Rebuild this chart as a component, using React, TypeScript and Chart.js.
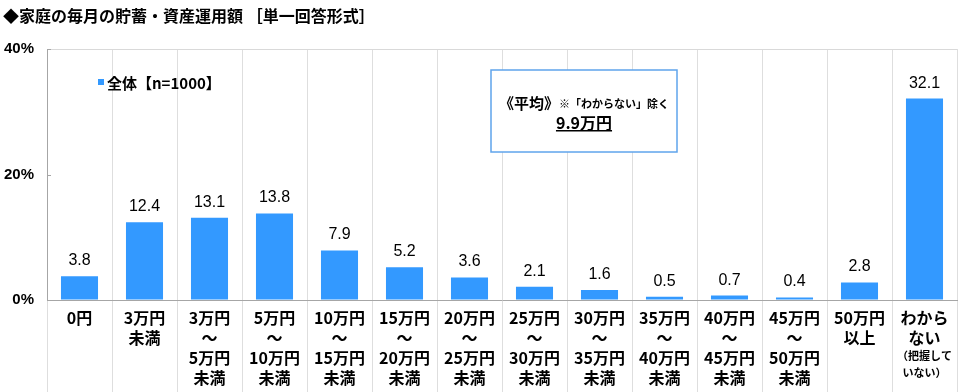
import React, { useEffect, useRef } from "react";
import { Chart, registerables } from "chart.js";

Chart.register(...registerables);

const title = "◆家庭の毎月の貯蓄・資産運用額 ［単一回答形式］";
const seriesName = "全体【n=1000】";
const categories: string[][] = [
  ["0円"],
  ["3万円", "未満"],
  ["3万円", "～", "5万円", "未満"],
  ["5万円", "～", "10万円", "未満"],
  ["10万円", "～", "15万円", "未満"],
  ["15万円", "～", "20万円", "未満"],
  ["20万円", "～", "25万円", "未満"],
  ["25万円", "～", "30万円", "未満"],
  ["30万円", "～", "35万円", "未満"],
  ["35万円", "～", "40万円", "未満"],
  ["40万円", "～", "45万円", "未満"],
  ["45万円", "～", "50万円", "未満"],
  ["50万円", "以上"],
  ["わから", "ない", "（把握して", "いない）"],
];
const smallLines = ["（把握して", "いない）"];
const values = [3.8, 12.4, 13.1, 13.8, 7.9, 5.2, 3.6, 2.1, 1.6, 0.5, 0.7, 0.4, 2.8, 32.1];
const yTicks = [0, 20, 40];
const noteHead = "《平均》";
const noteSub = "※「わからない」除く";
const noteValue = "9.9万円";

const JP = "'Noto Sans CJK JP', 'Noto Sans', sans-serif";
const NUM = "'Liberation Sans', Arial, sans-serif";
const BAR = "#3399ff";

const overlay = {
  id: "overlay",
  afterDatasetsDraw(chart: any) {
    const ctx = chart.ctx;
    const meta = chart.getDatasetMeta(0);
    ctx.save();
    ctx.fillStyle = "#000";
    ctx.font = `16px ${NUM}`;
    ctx.textAlign = "center";
    ctx.textBaseline = "alphabetic";
    meta.data.forEach((el: any, i: number) => {
      ctx.fillText(values[i].toFixed(1), el.x, el.y - 11);
    });
    ctx.restore();
  },
  afterDraw(chart: any) {
    const ctx = chart.ctx;
    const xs = chart.scales.x;
    const ys = chart.scales.y;
    const area = chart.chartArea;
    ctx.save();
    // title
    ctx.fillStyle = "#000";
    ctx.textAlign = "left";
    ctx.textBaseline = "middle";
    ctx.font = `bold 16px ${JP}`;
    ctx.fillText(title, 3, 16);
    // legend
    ctx.fillStyle = BAR;
    ctx.fillRect(98, 79, 6, 6);
    ctx.fillStyle = "#000";
    ctx.font = `bold 15px ${JP}`;
    ctx.fillText(seriesName, 107, 83);
    // inward y ticks
    ctx.strokeStyle = "#a6a6a6";
    ctx.lineWidth = 1;
    yTicks.forEach((t) => {
      const y = Math.round(ys.getPixelForValue(t)) + 0.5;
      ctx.beginPath();
      ctx.moveTo(area.left, y);
      ctx.lineTo(area.left + 4, y);
      ctx.stroke();
    });
    // note box
    ctx.fillStyle = "#fff";
    ctx.fillRect(491, 70, 186, 82);
    ctx.strokeStyle = "#5fa4ec";
    ctx.lineWidth = 1.5;
    ctx.strokeRect(491, 70, 186, 82);
    ctx.fillStyle = "#000";
    ctx.font = `bold 15px ${JP}`;
    const w1 = ctx.measureText(noteHead).width;
    ctx.font = `bold 11px ${JP}`;
    const w2 = ctx.measureText(noteSub).width;
    const cx = 584;
    const sx = cx - (w1 + w2) / 2;
    ctx.textAlign = "left";
    ctx.font = `bold 15px ${JP}`;
    ctx.fillText(noteHead, sx, 103);
    ctx.font = `bold 11px ${JP}`;
    ctx.fillText(noteSub, sx + w1, 104);
    ctx.font = `bold 16px ${JP}`;
    ctx.textAlign = "center";
    ctx.fillText(noteValue, cx, 123);
    const w3 = ctx.measureText(noteValue).width;
    ctx.fillRect(cx - w3 / 2, 130, w3, 1.5);
    // x labels
    ctx.textAlign = "center";
    ctx.textBaseline = "middle";
    categories.forEach((lines, i) => {
      const x = xs.getPixelForValue(i);
      let y = 318;
      lines.forEach((ln) => {
        const small = smallLines.includes(ln);
        ctx.font = small ? `bold 11px ${JP}` : `bold 16px ${JP}`;
        ctx.fillText(ln, x, small ? y - 2 : y);
        y += small ? 17 : 20;
      });
    });
    ctx.restore();
  },
};

export default function App() {
  const ref = useRef<HTMLCanvasElement | null>(null);
  useEffect(() => {
    document.body.style.margin = "0";
    const chart = new Chart(ref.current as HTMLCanvasElement, {
      type: "bar",
      data: {
        labels: categories.map((c) => c.join("")),
        datasets: [
          {
            label: seriesName,
            data: values,
            backgroundColor: BAR,
            barPercentage: 0.57,
            categoryPercentage: 1,
          },
        ],
      },
      options: {
        animation: false,
        responsive: false,
        devicePixelRatio: 1,
        layout: { padding: { top: 49, left: 0, right: 3, bottom: 0 } },
        plugins: { legend: { display: false }, tooltip: { enabled: false }, title: { display: false } },
        scales: {
          x: {
            afterFit: (s: any) => {
              s.height = 92;
            },
            ticks: { display: false },
            grid: {
              offset: true,
              color: "#dedede",
              tickColor: "#dedede",
              drawTicks: true,
              tickLength: 92,
            },
            border: { display: true, color: "#a6a6a6" },
          },
          y: {
            min: 0,
            max: 40,
            afterFit: (s: any) => {
              s.width = 47;
            },
            afterBuildTicks: (s: any) => {
              s.ticks = yTicks.map((v) => ({ value: v }));
            },
            ticks: {
              callback: (v: any) => v + "%",
              font: { family: NUM, size: 15, weight: "bold" },
              color: "#000",
              padding: 13,
            },
            grid: {
              drawTicks: false,
              color: (c: any) => (c.tick && c.tick.value === 40 ? "#d9d9d9" : "rgba(0,0,0,0)"),
            },
            border: { display: true, color: "#a6a6a6" },
          },
        },
      },
      plugins: [overlay],
    } as any);
    return () => chart.destroy();
  }, []);
  return (
    <div style={{ width: 960, height: 392 }}>
      <canvas ref={ref} width={960} height={392} style={{ display: "block" }} />
    </div>
  );
}
